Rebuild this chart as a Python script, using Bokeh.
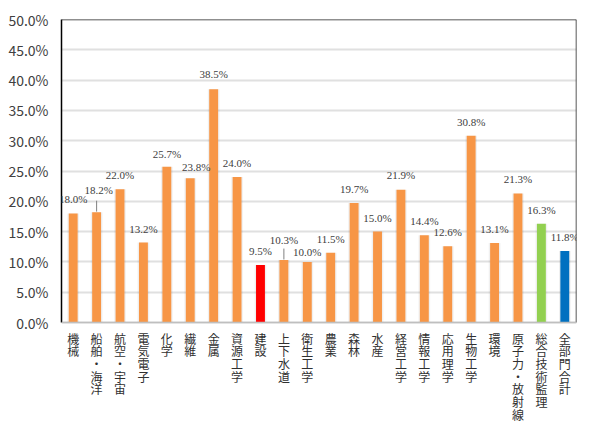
from bokeh.plotting import figure
from bokeh.models import (ColumnDataSource, FactorRange, Range1d, FixedTicker,
                          PrintfTickFormatter, LabelSet, Span)
from bokeh.core.properties import value as pval
from bokeh.embed import file_html
from bokeh.resources import INLINE

categories = ["機械", "船舶・海洋", "航空・宇宙", "電気電子", "化学", "繊維", "金属",
              "資源工学", "建設", "上下水道", "衛生工学", "農業", "森林", "水産",
              "経営工学", "情報工学", "応用理学", "生物工学", "環境", "原子力・放射線",
              "総合技術監理", "全部門合計"]
values = [18.0, 18.2, 22.0, 13.2, 25.7, 23.8, 38.5, 24.0, 9.5, 10.3, 10.0, 11.5,
          19.7, 15.0, 21.9, 14.4, 12.6, 30.8, 13.1, 21.3, 16.3, 11.8]
y_ticks = [0, 5, 10, 15, 20, 25, 30, 35, 40, 45, 50]

# styling
ORANGE = "#F79646"
highlight = {"建設": "#FF0000", "総合技術監理": "#92D050", "全部門合計": "#0070C0"}
colors = [highlight.get(c, ORANGE) for c in categories]
# label nudges (screen px), layout only
label_dx = [0, 2, 0, 0, 0, 6, 0, 0, 0, 0, 0, 0, 0, 0, 0, 0, 0, 0, 0, 0, 0, 0]
label_dy = [14, 22, 14, 14, 13, 11, 15, 14, 14, 20, 10, 14, 14, 14, 15, 14, 14, 14, 14, 14, 14, 14]
leader = {"船舶・海洋", "上下水道"}

FONT = "Noto Sans CJK JP"
TXT = "#404040"
CHAR_PITCH = 12.7      # px between stacked characters
CHAR_STANDOFF = 7      # px below the 0 line
YMAX = 50

W, H = 584, 425
B_TOP, B_BOTTOM, B_LEFT, B_RIGHT = 19, 2, 61, 8
PLOT_PX = 303                       # pixel height of the 0..50 % zone
FRAME_H = H - B_TOP - B_BOTTOM
px2data = YMAX / PLOT_PX
y_start = -(FRAME_H - PLOT_PX) * px2data

src = ColumnDataSource(dict(
    cat=categories, val=values, color=colors,
    lbl=["%.1f%%" % v for v in values],
    dx=label_dx, dy=label_dy,
))

p = figure(width=W, height=H, x_range=FactorRange(*categories),
           y_range=Range1d(y_start, YMAX), output_backend="svg",
           toolbar_location=None, min_border_left=B_LEFT, min_border_top=B_TOP,
           min_border_right=B_RIGHT, min_border_bottom=B_BOTTOM)
p.outline_line_color = None
p.background_fill_color = "white"
p.border_fill_color = "white"

# grid
p.xgrid.grid_line_color = None
p.ygrid.grid_line_color = "#e0e0e0"
p.ygrid.grid_line_width = 2

# shadow and bars
p.vbar(x="cat", top="val", width=0.5, source=src, fill_color="black",
       fill_alpha=0.06, line_color=None)
p.vbar(x="cat", top="val", width=0.38, source=src, fill_color="color",
       line_color=None)

# leader lines
lx = [c for c in categories if c in leader]
lv = [v for c, v in zip(categories, values) if c in leader]
p.segment(x0=lx, y0=[v + 0.1 for v in lv], x1=lx, y1=[v + 1.9 for v in lv],
          line_color="#808080", line_width=1)

labels = LabelSet(x="cat", y="val", text="lbl", source=src, x_offset="dx",
                  y_offset="dy", text_align="center", text_baseline="middle",
                  text_font=FONT, text_font_size="11px", text_color=TXT)
p.add_layout(labels)

# y axis
p.yaxis.ticker = FixedTicker(ticks=y_ticks)
p.yaxis.bounds = (0, YMAX)
p.yaxis.formatter = PrintfTickFormatter(format="%.1f%%")
p.yaxis.major_tick_line_color = None
p.yaxis.major_tick_out = 0
p.yaxis.major_tick_in = 0
p.yaxis.minor_tick_line_color = None
p.yaxis.axis_line_color = "black"
p.yaxis.axis_line_width = 1.5
p.yaxis.major_label_standoff = 13
p.yaxis.major_label_text_font = FONT
p.yaxis.major_label_text_font_size = "14px"
p.yaxis.major_label_text_color = TXT

p.xaxis.visible = False

# frame lines
p.add_layout(Span(location=0, dimension="width", line_color="#bfbfbf", line_width=1.5))
p.add_layout(Span(location=YMAX, dimension="width", line_color="#202020", line_width=1.5))
p.segment(x0=[len(categories)], y0=[0], x1=[len(categories)], y1=[YMAX],
          line_color="#202020", line_width=1.5)

# vertical (tategaki) category labels, one character per row
cx, cy, ct = [], [], []
for c in categories:
    for k, ch in enumerate(c):
        cx.append(c)
        cy.append(-(CHAR_STANDOFF + k * CHAR_PITCH) * px2data)
        ct.append(ch)
p.text(x=cx, y=cy, text=ct, text_align="center", text_baseline="top",
       text_font=pval(FONT), text_font_size="12px", text_color="#303030")

open("out.html", "w").write(file_html(p, INLINE))
